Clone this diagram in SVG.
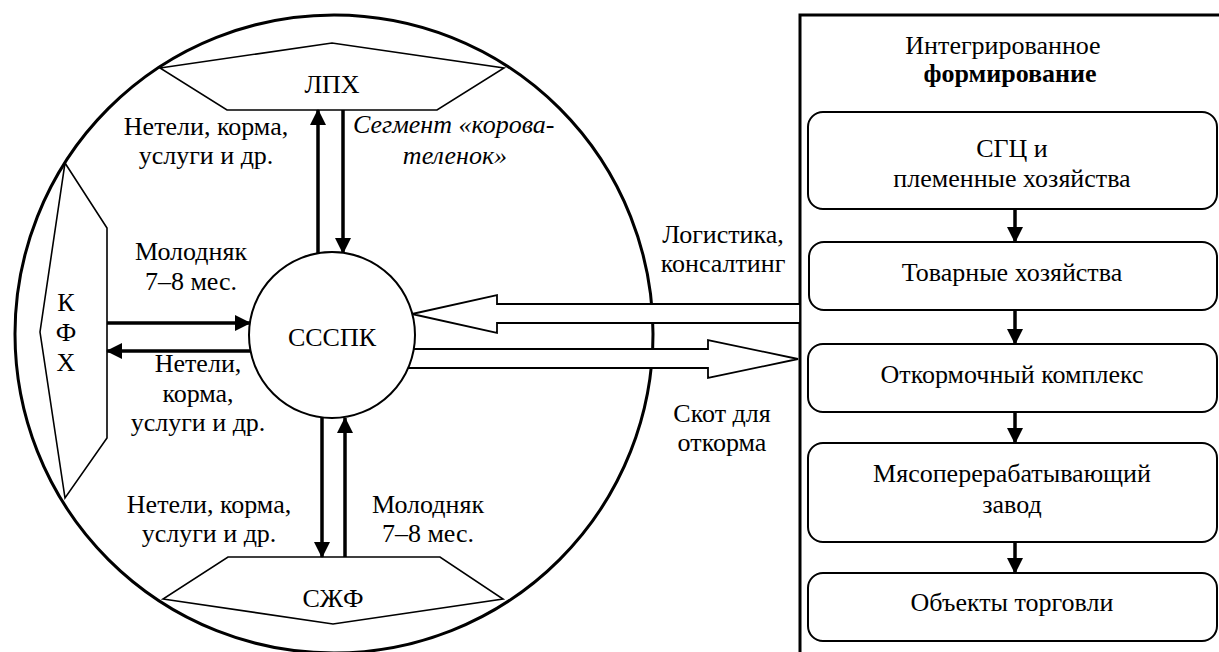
<svg xmlns="http://www.w3.org/2000/svg" width="1219" height="652" viewBox="0 0 1219 652" font-family="'Liberation Serif', 'Times New Roman', serif" font-size="26">
<style>
text{fill:#000}
.c{text-anchor:middle}
.it{font-style:italic}
.b{font-weight:bold}
.shape{fill:#fff;stroke:#000;stroke-width:2}
.thin{fill:#fff;stroke:#000;stroke-width:1.6}
.arr{stroke:#000;stroke-width:3.5;fill:none}
.hollow{fill:#fff;stroke:#000;stroke-width:1.8}
</style>
<defs>
<marker id="ah" markerUnits="userSpaceOnUse" markerWidth="16" markerHeight="16" refX="15" refY="8" orient="auto">
<path d="M0,0 L16,8 L0,16 Z" fill="#000"/>
</marker>
</defs>
<g id="outer"><circle cx="334" cy="334" r="319" fill="none" stroke="#000" stroke-width="3"/></g>
<g id="lph"><polygon class="thin" points="160,68 332,43 504,68 437,110 227,110"/><text class="c" x="332" y="93">ЛПХ</text></g>
<g id="sjf"><polygon class="thin" points="163,599 333,624 503,599 440,557 228,557"/><text class="c" x="333" y="607">СЖФ</text></g>
<g id="kfh"><polygon class="thin" points="65,163 107,228 107,438 65,498 40,332"/><text class="c" x="66" y="311">К</text><text class="c" x="66" y="341">Ф</text><text class="c" x="66" y="371">Х</text></g>
<g id="integr">
<path d="M800,652 V15 H1222" fill="none" stroke="#000" stroke-width="3"/>
<text class="c" x="1003" y="54">Интегрированное</text>
<text class="c b" x="1010" y="82">формирование</text>
</g>
<g id="connectors">
<line class="arr" x1="318" y1="253" x2="318" y2="110" marker-end="url(#ah)"/>
<line class="arr" x1="343" y1="110" x2="343" y2="253" marker-end="url(#ah)"/>
<line class="arr" x1="322" y1="418" x2="322" y2="557" marker-end="url(#ah)"/>
<line class="arr" x1="345" y1="557" x2="345" y2="418" marker-end="url(#ah)"/>
<line class="arr" x1="107" y1="323" x2="250" y2="323" marker-end="url(#ah)"/>
<line class="arr" x1="251" y1="351" x2="107" y2="351" marker-end="url(#ah)"/>
<polygon class="hollow" points="412,314 497,295 497,304 800,304 800,323 497,323 497,333"/>
<polygon class="hollow" points="395,349 708,349 708,340 798,359 708,378 708,368 395,368"/>
<line class="arr" x1="1015" y1="209" x2="1015" y2="242" marker-end="url(#ah)"/>
<line class="arr" x1="1015" y1="310" x2="1015" y2="344" marker-end="url(#ah)"/>
<line class="arr" x1="1015" y1="412" x2="1015" y2="443" marker-end="url(#ah)"/>
<line class="arr" x1="1015" y1="542" x2="1015" y2="573" marker-end="url(#ah)"/>
</g>
<g id="ssspk"><circle class="shape" cx="332" cy="335" r="83"/><text class="c" x="332" y="346">СССПК</text></g>
<g id="labels">
<text class="c" x="206" y="135">Нетели, корма,</text>
<text class="c" x="206" y="164">услуги и др.</text>
<text class="it" x="353" y="133">Сегмент «корова-</text>
<text class="c it" x="455" y="164">теленок»</text>
<text class="c" x="191" y="260">Молодняк</text>
<text class="c" x="191" y="290">7–8 мес.</text>
<text class="c" x="198" y="372">Нетели,</text>
<text class="c" x="198" y="402">корма,</text>
<text class="c" x="198" y="431">услуги и др.</text>
<text class="c" x="209" y="513">Нетели, корма,</text>
<text class="c" x="209" y="542">услуги и др.</text>
<text class="c" x="428" y="513">Молодняк</text>
<text class="c" x="428" y="542">7–8 мес.</text>
<text class="c" x="723" y="243">Логистика,</text>
<text class="c" x="723" y="272">консалтинг</text>
<text class="c" x="722" y="422">Скот для</text>
<text class="c" x="722" y="451">откорма</text>
</g>
<g id="box1"><rect class="shape" x="808" y="112" width="409" height="97" rx="15"/><text class="c" x="1012" y="157">СГЦ и</text><text class="c" x="1012" y="187">племенные хозяйства</text></g>
<g id="box2"><rect class="shape" x="809" y="242" width="408" height="68" rx="15"/><text class="c" x="1012" y="281">Товарные хозяйства</text></g>
<g id="box3"><rect class="shape" x="808" y="344" width="409" height="68" rx="15"/><text class="c" x="1012" y="383">Откормочный комплекс</text></g>
<g id="box4"><rect class="shape" x="808" y="443" width="409" height="99" rx="15"/><text class="c" x="1012" y="482">Мясоперерабатывающий</text><text class="c" x="1012" y="513">завод</text></g>
<g id="box5"><rect class="shape" x="808" y="573" width="409" height="68" rx="15"/><text class="c" x="1012" y="611">Объекты торговли</text></g>
</svg>
